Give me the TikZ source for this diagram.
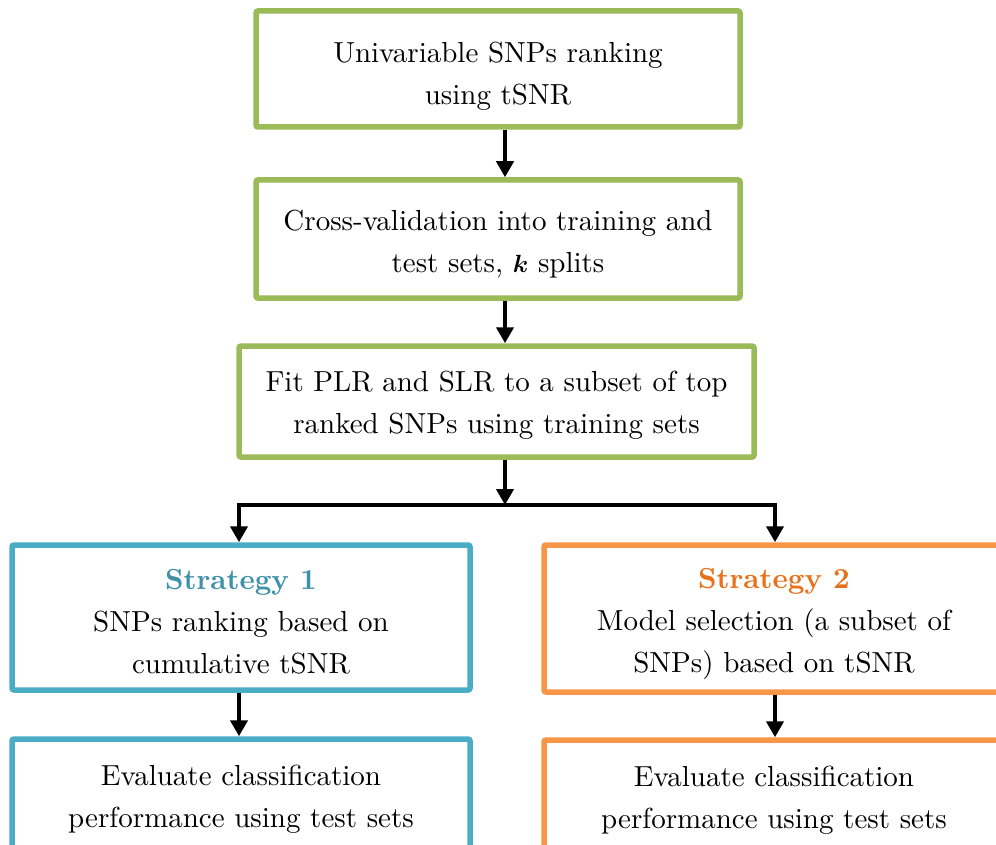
\documentclass[tikz,border=0pt]{standalone}
\usepackage{fontspec}
\setmainfont{lmroman10-regular.otf}[BoldFont=lmroman10-bold.otf, ItalicFont=lmroman10-italic.otf, BoldItalicFont=lmroman10-bolditalic.otf]
\usepackage{bm}
\usetikzlibrary{arrows.meta}
\definecolor{boxgreen}{HTML}{9BBB59}
\definecolor{boxblue}{HTML}{4BACC6}
\definecolor{boxorange}{HTML}{F79646}
\definecolor{txtblue}{HTML}{3F91AA}
\definecolor{txtorange}{HTML}{E8711A}
\begin{document}
\begin{tikzpicture}[x=1pt,y=-1pt,
  flowbox/.style={draw, line width=5.5pt, rounded corners=2pt, fill=white, inner sep=0pt},
  flowtext/.style={align=center, inner sep=0pt, font=\fontsize{29}{42}\selectfont},
  flowarrow/.style={line width=4.5pt, -{Triangle[width=17pt,length=16pt]}},
  flowline/.style={line width=4.5pt}]
\useasboundingbox (0,0) rectangle (996,845);
\node[flowbox, draw=boxgreen, minimum width=484pt, minimum height=116pt,
  label={[flowtext,yshift=-7pt]center:{Univariable SNPs ranking\\using tSNR}}] (b1) at (498,69) {};
\node[flowbox, draw=boxgreen, minimum width=484pt, minimum height=118pt,
  label={[flowtext,yshift=-5pt]center:{Cross-validation into training and\\test sets, $\bm{k}$ splits}}] (b2) at (498,239) {};
\node[flowbox, draw=boxgreen, minimum width=515pt, minimum height=111pt,
  label={[flowtext,yshift=-4pt]center:{Fit PLR and SLR to a subset of top\\ranked SNPs using training sets}}] (b3) at (496.5,401.5) {};
\node[flowbox, draw=boxblue, minimum width=458pt, minimum height=145pt,
  label={[flowtext,yshift=-4pt]center:{\textcolor{txtblue}{\textbf{Strategy 1}}\\SNPs ranking based on\\cumulative tSNR}}] (s1) at (241,617.5) {};
\node[flowbox, draw=boxorange, minimum width=460pt, minimum height=147pt,
  label={[flowtext,yshift=-6pt]center:{\textcolor{txtorange}{\textbf{Strategy 2}}\\Model selection (a subset of\\SNPs) based on tSNR}}] (s2) at (774,618.5) {};
\node[flowbox, draw=boxblue, minimum width=458pt, minimum height=114pt,
  label={[flowtext,yshift=-3pt]center:{Evaluate classification\\performance using test sets}}] (e1) at (241,796) {};
\node[flowbox, draw=boxorange, minimum width=460pt, minimum height=114pt,
  label={[flowtext,yshift=-3pt]center:{Evaluate classification\\performance using test sets}}] (e2) at (774,797) {};
\coordinate (ax) at (505,0);
\coordinate (bar) at (505,505);
\coordinate (barl) at (239,505);
\coordinate (barr) at (775,505);
\draw[flowarrow] (b1.south -| ax) -- (b2.north -| ax);
\draw[flowarrow] (b2.south -| ax) -- (b3.north -| ax);
\draw[flowarrow] (b3.south -| ax) -- (bar);
\draw[flowline] ([xshift=-2.25pt]barl) -- ([xshift=2.25pt]barr);
\draw[flowarrow] ([yshift=-2.25pt]barl) -- (s1.north -| barl);
\draw[flowarrow] ([yshift=-2.25pt]barr) -- (s2.north -| barr);
\draw[flowarrow] (s1.south -| barl) -- (e1.north -| barl);
\draw[flowarrow] (s2.south -| barr) -- (e2.north -| barr);
\end{tikzpicture}
\end{document}
